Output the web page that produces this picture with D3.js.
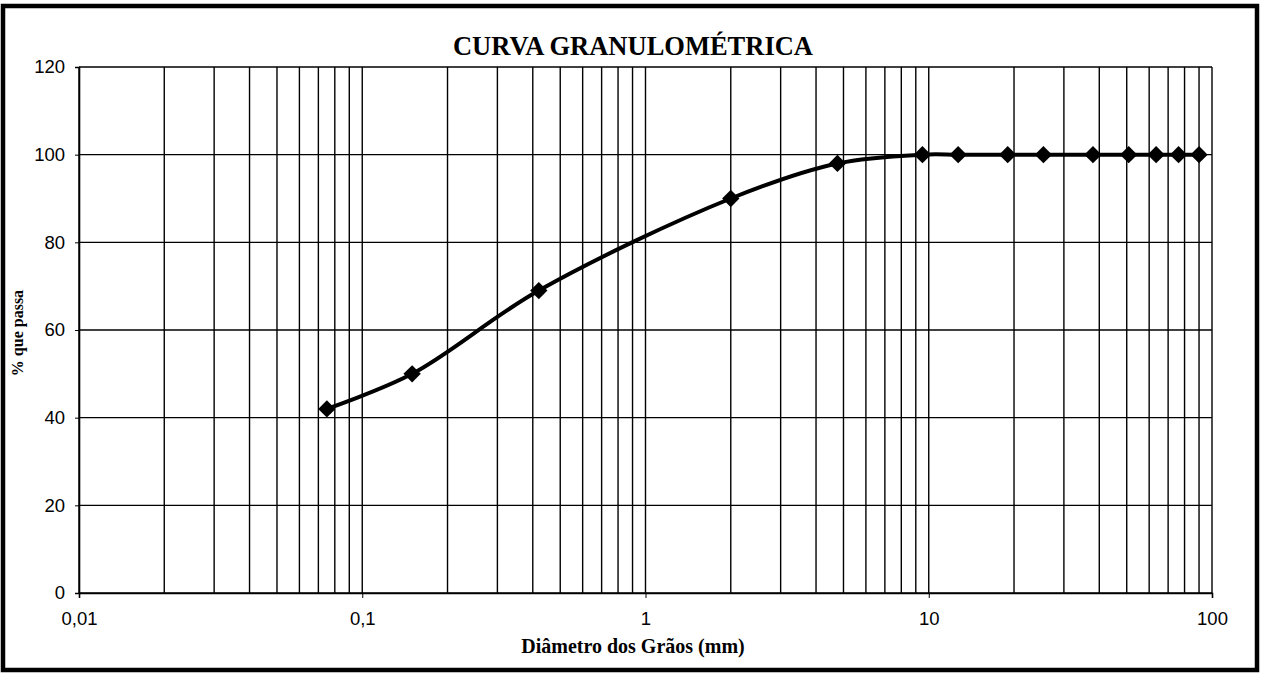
<!DOCTYPE html>
<html><head><meta charset="utf-8">
<script src="https://cdn.jsdelivr.net/npm/d3@7"></script>
<style>html,body{margin:0;padding:0;background:#fff;}svg{display:block;}</style>
</head><body>
<script>
const diameters = [0.075, 0.15, 0.42, 2.0, 4.76, 9.5, 12.7, 19, 25.4, 38, 50.8, 63.5, 76.2, 90];
const percentPassing = [42, 50, 69, 90, 98, 100, 100, 100, 100, 100, 100, 100, 100, 100];
const xTickValues = [0.01, 0.1, 1, 10, 100];
const xTickLabels = ["0,01", "0,1", "1", "10", "100"];
const yTickValues = [0, 20, 40, 60, 80, 100, 120];
const titleText = "CURVA GRANULOMÉTRICA";
const xTitle = "Diâmetro dos Grãos (mm)";
const yTitle = "% que passa";

const W = 1267, H = 675;
const m = {left: 79, right: 1212, top: 67, bottom: 593};
const svg = d3.select("body").append("svg").attr("width", W).attr("height", H);

// outer frame
svg.append("rect").attr("x", 3).attr("y", 6).attr("width", 1254).attr("height", 664)
  .attr("fill", "none").attr("stroke", "#000").attr("stroke-width", 4.5);

const x = d3.scaleLog().domain([0.01, 100]).range([m.left, m.right]);
const y = d3.scaleLinear().domain([0, 120]).range([m.bottom, m.top]);

// vertical grid at every minor log tick
const minor = [];
for (let e = -2; e < 2; e++) for (let k = 1; k <= 9; k++) minor.push(k * Math.pow(10, e));
minor.push(100);
svg.append("g").selectAll("line").data(minor).join("line")
  .attr("x1", d => x(d)).attr("x2", d => x(d))
  .attr("y1", y(0)).attr("y2", y(120))
  .attr("stroke", "#000").attr("stroke-width", 1.4);

// horizontal grid
svg.append("g").selectAll("line").data(yTickValues).join("line")
  .attr("x1", m.left).attr("x2", m.right)
  .attr("y1", d => y(d)).attr("y2", d => y(d))
  .attr("stroke", "#000").attr("stroke-width", 1.4);

// axes
const yAxis = d3.axisLeft(y).tickValues(yTickValues).tickSize(4).tickPadding(10);
const gy = svg.append("g").attr("transform", `translate(${m.left},0)`).call(yAxis);
gy.select(".domain").attr("stroke-width", 1.6);
gy.selectAll("text").attr("font-family", "Liberation Sans, Arial, sans-serif").attr("font-size", 18.5).attr("fill", "#000");

const xAxis = d3.axisBottom(x).tickValues(xTickValues).tickFormat((d, i) => xTickLabels[i]).tickSize(5).tickPadding(14);
const gx = svg.append("g").attr("transform", `translate(0,${m.bottom})`).call(xAxis);
gx.select(".domain").attr("stroke-width", 1.6);
gx.selectAll("text").attr("font-family", "Liberation Sans, Arial, sans-serif").attr("font-size", 18.5).attr("fill", "#000");

// curve
const pts = diameters.map((d, i) => [d, percentPassing[i]]);
const line = d3.line().x(d => x(d[0])).y(d => y(d[1])).curve(d3.curveCatmullRom.alpha(0.5));
svg.append("path").datum(pts).attr("d", line).attr("fill", "none")
  .attr("stroke", "#000").attr("stroke-width", 4);

// diamond markers
const sym = d3.symbol().type(d3.symbolSquare).size(150);
svg.append("g").selectAll("path").data(pts).join("path")
  .attr("d", sym)
  .attr("transform", d => `translate(${x(d[0])},${y(d[1])}) rotate(45)`)
  .attr("fill", "#000");

// titles
svg.append("text").attr("x", 633).attr("y", 55).attr("text-anchor", "middle")
  .attr("font-family", "Liberation Serif, Times New Roman, serif").attr("font-weight", "bold")
  .attr("font-size", 26.5).text(titleText);
svg.append("text").attr("x", 633).attr("y", 653).attr("text-anchor", "middle")
  .attr("font-family", "Liberation Serif, Times New Roman, serif").attr("font-weight", "bold")
  .attr("font-size", 20).text(xTitle);
svg.append("text").attr("transform", "translate(23,333) rotate(-90)").attr("text-anchor", "middle")
  .attr("font-family", "Liberation Serif, Times New Roman, serif").attr("font-weight", "bold")
  .attr("font-size", 16).text(yTitle);
</script>
</body></html>
